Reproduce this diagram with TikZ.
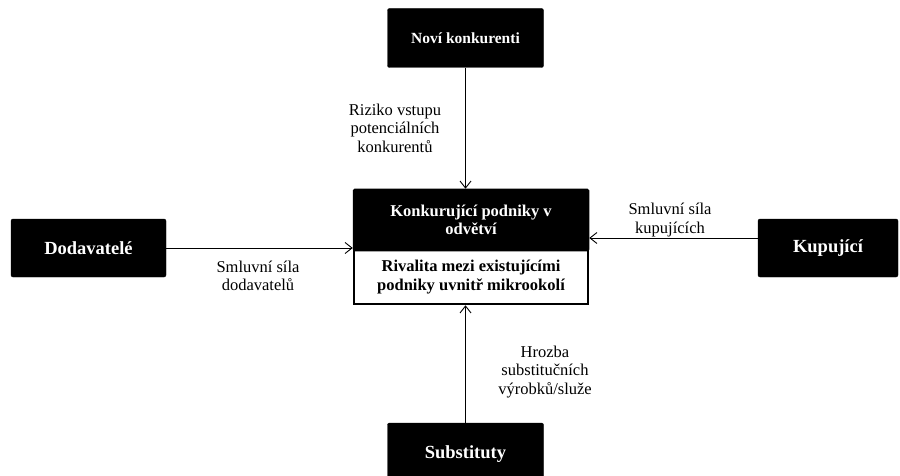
\documentclass[tikz,border=0pt]{standalone}
\usepackage{fontspec}
\setmainfont{Liberation Serif}
\usetikzlibrary{arrows.meta}
\begin{document}
\begin{tikzpicture}[x=1pt, y=-1pt,
    blackbox/.style={fill=black, draw=black, rounded corners=2pt, text=white,
      font=\bfseries\fontsize{18.5}{20}\selectfont, align=center, inner sep=0pt},
    forcelabel/.style={align=center, font=\fontsize{16.5}{18.5}\selectfont},
    arr/.style={line width=0.9pt, -{Straight Barb[length=7pt, width=11pt, line width=0.9pt]}}]
    \useasboundingbox (0,0) rectangle (900,476);
    \fill[white] (0,0) rectangle (900,476);
    \node[blackbox, minimum width=156pt, minimum height=59pt,
      font=\bfseries\fontsize{15.5}{18.5}\selectfont] (novi) at (465.5,38){Noví konkurenti};
    \node[blackbox, minimum width=155pt, minimum height=58pt] (dodav) at (88.5,248){Dodavatelé};
    \node[blackbox, minimum width=140pt, minimum height=58pt] (kupuj) at (828,248){Kupující};
    \node[blackbox, minimum width=156pt, minimum height=62pt] (subst) at (465.5,454){Substituty};
    \node[blackbox, rounded corners=1pt, line width=2.5pt, minimum width=234pt, minimum height=60pt,
      font=\bfseries\fontsize{16.5}{18.5}\selectfont] (konk) at (471,220){Konkurující podniky v\\odvětví};
    \node[draw, line width=2.5pt, align=center, inner sep=0pt, minimum width=234pt, minimum height=54pt,
      font=\bfseries\fontsize{16.5}{18.5}\selectfont] (rival) at (471,277){Rivalita mezi existujícími\\podniky uvnitř mikrookolí};
    \node[forcelabel] (riziko) at (395,128){Riziko vstupu\\potenciálních\\konkurentů};
    \node[forcelabel] (smldod) at (258,276){Smluvní síla\\dodavatelů};
    \node[forcelabel] (smlkup) at (670,220){Smluvní síla\\kupujících};
    \node[forcelabel] (hrozba) at (545,372){Hrozba\\substitučních\\výrobků/služe};
    \draw[arr](novi.south) -- (novi.south |- konk.north);
    \draw[arr](subst.north) -- (subst.north |- rival.south);
    \draw[arr](dodav.east) -- (dodav.east -| konk.west);
    \draw[arr]([yshift=10pt]kupuj.west) -- ([yshift=10pt]kupuj.west -| konk.east);
  \end{tikzpicture}
\end{document}
